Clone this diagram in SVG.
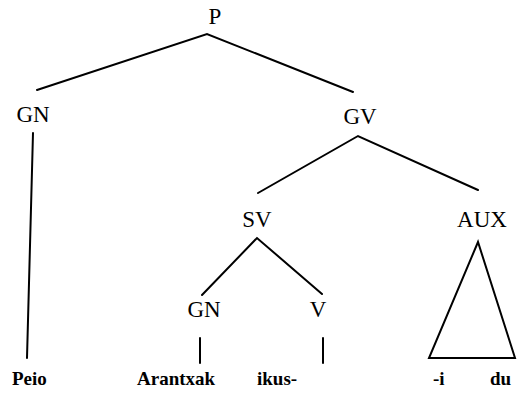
<svg xmlns="http://www.w3.org/2000/svg" width="528" height="402" viewBox="0 0 528 402">
  <style>
    .cat { font-size: 23px; text-anchor: middle; fill: #000; }
    .word { font-size: 19px; font-weight: bold; fill: #000; }
    .edge { stroke: #000; stroke-width: 2; fill: none; stroke-linecap: round; stroke-linejoin: miter; }
  </style>
  <rect width="528" height="402" fill="#fff"/>

  <!-- branches of the tree -->
  <g id="connectors">
    <polyline class="edge" points="37,90 207,34 353,92"/>
    <line class="edge" x1="33" y1="133" x2="27" y2="358"/>
    <polyline class="edge" points="258,193 358,136 478,190"/>
    <polyline class="edge" points="202,295 257,238 322,294"/>
    <line class="edge" x1="200" y1="338" x2="200" y2="363"/>
    <line class="edge" x1="323" y1="338" x2="323" y2="363"/>
    <polygon class="edge" points="478,242 429,358 515,358"/>
  </g>

  <g font-family="Liberation Serif, DejaVu Serif, Times New Roman, Times, serif">
    <!-- category labels -->
    <g id="node-P"><text class="cat" x="215" y="24">P</text></g>
    <g id="node-GN"><text class="cat" x="33" y="122">GN</text></g>
    <g id="node-GV"><text class="cat" x="360" y="124">GV</text></g>
    <g id="node-SV"><text class="cat" x="257" y="227">SV</text></g>
    <g id="node-AUX"><text class="cat" x="482" y="227">AUX</text></g>
    <g id="node-GN2"><text class="cat" x="204" y="317">GN</text></g>
    <g id="node-V"><text class="cat" x="318" y="317">V</text></g>

    <!-- terminal words -->
    <g id="word-Peio"><text class="word" x="12" y="385">Peio</text></g>
    <g id="word-Arantxak"><text class="word" x="137" y="385">Arantxak</text></g>
    <g id="word-ikus"><text class="word" x="257" y="385">ikus-</text></g>
    <g id="word-i"><text class="word" x="433" y="385">-i</text></g>
    <g id="word-du"><text class="word" x="490" y="385">du</text></g>
  </g>
</svg>
